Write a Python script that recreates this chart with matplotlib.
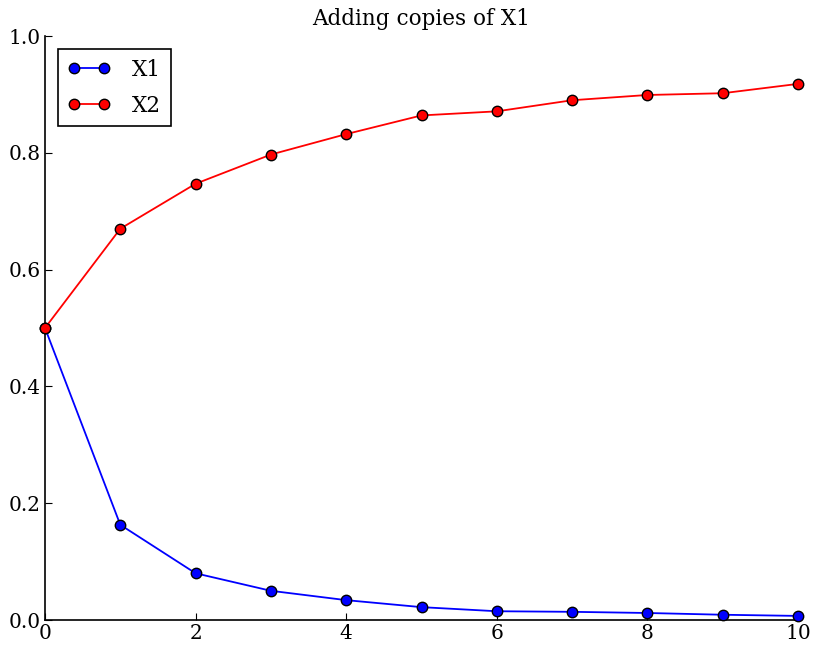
import matplotlib
matplotlib.use("Agg")
import matplotlib.pyplot as plt

x = [0, 1, 2, 3, 4, 5, 6, 7, 8, 9, 10]
x1 = [0.5, 0.163, 0.080, 0.050, 0.034, 0.022, 0.015, 0.014, 0.012, 0.009, 0.007]
x2 = [0.5, 0.670, 0.747, 0.797, 0.832, 0.864, 0.871, 0.890, 0.899, 0.902, 0.918]
xticks = [0, 2, 4, 6, 8, 10]
yticks = [0.0, 0.2, 0.4, 0.6, 0.8, 1.0]

plt.rcParams['font.family'] = ['DejaVu Serif']

fig = plt.figure(figsize=(8.14, 6.5), dpi=100)
ax = fig.add_axes([45/814, 30/650, (798-45)/814, (620-36)/650])

ax.plot(x, x1, color='blue', marker='o', markersize=7.5, markeredgecolor='black',
        markeredgewidth=1.0, linewidth=1.3, label='X1', clip_on=False, zorder=3)
ax.plot(x, x2, color='red', marker='o', markersize=7.5, markeredgecolor='black',
        markeredgewidth=1.0, linewidth=1.3, label='X2', clip_on=False, zorder=3)

ax.set_xlim(0, 10)
ax.set_ylim(0, 1.0)
ax.set_xticks(xticks)
ax.set_yticks(yticks)
ax.set_xticklabels([str(t) for t in xticks])
ax.set_yticklabels([f"{t:.1f}" for t in yticks])
ax.spines['top'].set_visible(False)
ax.spines['right'].set_visible(False)
ax.spines['left'].set_linewidth(1.2)
ax.spines['bottom'].set_linewidth(1.2)
ax.tick_params(direction='in', length=5, labelsize=14.5, pad=3, top=False, right=False)
ax.set_title('Adding copies of X1', fontsize=15.5, pad=8)

leg = ax.legend(loc='upper left', numpoints=2, fontsize=15.5, fancybox=False,
                edgecolor='black', framealpha=1, handlelength=2.0,
                handletextpad=1.0, labelspacing=0.65, borderpad=0.45,
                borderaxespad=0.6)
leg.get_frame().set_linewidth(1.2)

fig.savefig('out.png', dpi=100)
